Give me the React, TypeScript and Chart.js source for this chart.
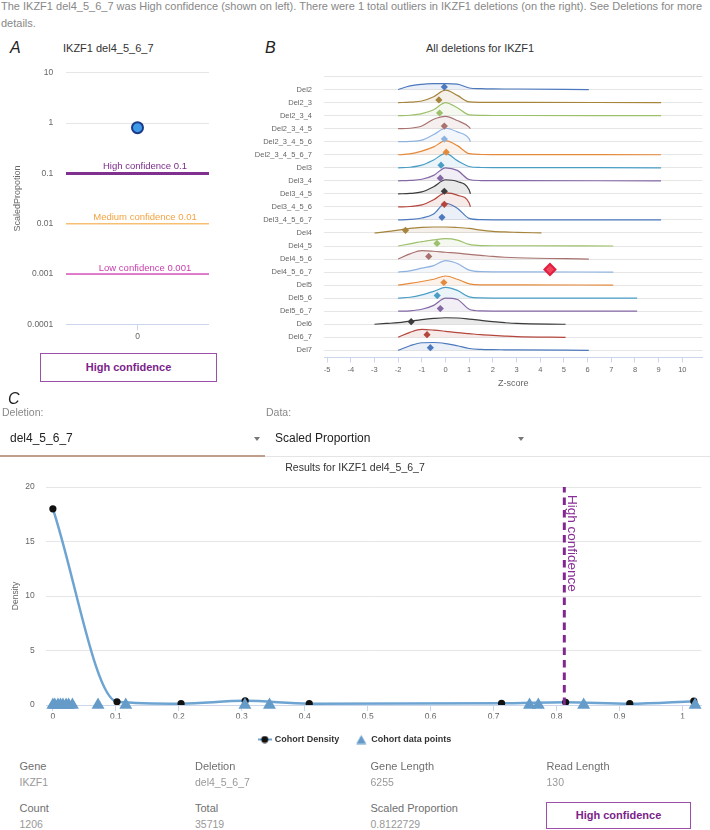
import React, { useEffect, useRef } from "react";
import { Chart, registerables } from "chart.js";

Chart.register(...registerables);

const FONT = "'Liberation Sans', Arial, Helvetica, sans-serif";
Chart.defaults.font.family = FONT;

// ---------------- shared values
const geneName = "IKZF1";
const deletionName = "del4_5_6_7";
const scaledProportion = 0.8122729;
const confidenceLevel = "High confidence";
const outlierCount = 1;

// ---------------- Panel A
const aCategory = ["0"];
const aLogTicks = [0.0001, 0.001, 0.01, 0.1, 1, 10];
const aLogTickLabels = ["0.0001", "0.001", "0.01", "0.1", "1", "10"];
const thresholdNames = ["High confidence", "Medium confidence", "Low confidence"];
const thresholdValues = [0.1, 0.01, 0.001];
const thresholdLineColors = ["#80308f", "#f7bf72", "#d955c0"];
const thresholdTextColors = ["#7b2a8b", "#f2a340", "#c940ad"];
const thresholdLineWidths = [3, 1.5, 1.5];

// ---------------- Panel B
const deletionCategories = [
  "Del2", "Del2_3", "Del2_3_4", "Del2_3_4_5", "Del2_3_4_5_6", "Del2_3_4_5_6_7",
  "Del3", "Del3_4", "Del3_4_5", "Del3_4_5_6", "Del3_4_5_6_7",
  "Del4", "Del4_5", "Del4_5_6", "Del4_5_6_7",
  "Del5", "Del5_6", "Del5_6_7", "Del6", "Del6_7", "Del7",
];
const ridgePalette = ["#4c79bd", "#a6843c", "#9dc06b", "#a8726f", "#8fb3e0", "#e58a3c", "#4a9ec6", "#8468a6", "#3b3b3b", "#b4463d"];
const ridgeGridZ = [-3, -2.5, -2, -1.5, -1, -0.5, 0, 0.5, 1, 1.5, 2, 2.5, 3];
const ridgeHeights: (number | null)[][] = [
  [null, null, 0, 0.28, 0.4, 0.45, 0.46, 0.42, 0.12, 0.07, 0.05, 0.04, 0.04],
  [null, null, 0, 0.03, 0.12, 0.45, 0.95, 0.55, 0.05, 0.02, 0.01, 0.01, 0.01],
  [null, null, 0, 0.03, 0.15, 0.45, 1.0, 0.6, 0.06, 0.02, 0.01, 0.01, 0.01],
  [null, null, 0, 0.03, 0.2, 0.72, 0.94, 0.62, 0.12],
  [null, null, 0, 0.02, 0.12, 0.55, 1.03, 0.75, 0.22],
  [null, null, 0, 0.06, 0.28, 0.6, 1.08, 0.7, 0.08, 0.02, 0.01, 0.01, 0.01],
  [null, null, 0, 0.04, 0.2, 0.6, 1.1, 0.55, 0.1, 0.02, 0.01, 0.01, 0.01],
  [null, null, 0, 0.03, 0.12, 0.42, 1.0, 0.8, 0.1, 0.02, 0.01, 0.01, 0.01],
  [null, null, 0, 0.03, 0.15, 0.55, 1.08, 0.95, 0.3],
  [null, null, 0, 0.03, 0.15, 0.55, 1.08, 0.9, 0.3],
  [null, null, 0, 0.04, 0.15, 0.45, 1.28, 0.9, 0.12, 0.02, 0.01, 0.01, 0.01],
  [0, 0.1, 0.22, 0.35, 0.43, 0.46, 0.46, 0.42, 0.35, 0.22, 0.13, 0.08, 0.05],
  [null, null, 0, 0.17, 0.33, 0.47, 0.56, 0.45, 0.12, 0.03, 0.02, 0.02, 0.02],
  [null, null, 0, 0.4, 0.65, 0.6, 0.52, 0.45, 0.36, 0.28, 0.2, 0.14, 0.1],
  [null, null, 0, 0.1, 0.3, 0.5, 0.88, 0.66, 0.15, 0.03, 0.02, 0.02, 0.02],
  [null, null, 0, 0.13, 0.28, 0.45, 0.7, 0.45, 0.1, 0.02, 0.02, 0.02, 0.02],
  [null, null, 0, 0.07, 0.25, 0.52, 0.83, 0.6, 0.1, 0.02, 0.01, 0.01, 0.01],
  [null, null, 0, 0.03, 0.15, 0.45, 1.0, 0.9, 0.15, 0.02, 0.01, 0.01, 0.01],
  [0, 0.06, 0.12, 0.24, 0.36, 0.45, 0.5, 0.48, 0.4, 0.3, 0.2, 0.12, 0.06],
  [null, null, 0, 0.38, 0.6, 0.55, 0.46, 0.36, 0.28, 0.2, 0.14, 0.09, 0.05],
  [null, null, 0, 0.35, 0.58, 0.6, 0.52, 0.35, 0.14, 0.07, 0.05, 0.04, 0.03],
];
const ridgeEndZ = [6.05, 9.1, 9.1, 1.05, 1.05, 9.1, 9.1, 9.1, 1.05, 1.05, 9.1, 4.05, 7.08, 6.05, 7.08, 7.08, 8.09, 8.09, 5.07, 5.07, 6.05];
const markerZ = [-0.05, -0.28, -0.25, -0.05, -0.05, 0.03, -0.19, -0.22, -0.05, -0.05, -0.15, -1.69, -0.36, -0.71, 4.41, -0.07, -0.35, -0.22, -1.45, -0.78, -0.64];
const outlierCategory = "Del4_5_6_7";
const zTicks = [-5, -4, -3, -2, -1, 0, 1, 2, 3, 4, 5, 6, 7, 8, 9, 10];

// ---------------- Panel C
const densityX = [0, 0.1018, 0.2036, 0.3054, 0.4072, 0.7126, 0.8144, 0.9162, 1.018];
const densityY = [18, 0.3, 0.12, 0.38, 0.12, 0.15, 0.25, 0.12, 0.35];
const cohortValues = [0, 0.003, 0.008, 0.012, 0.016, 0.021, 0.025, 0.031, 0.0717, 0.1157, 0.305, 0.344, 0.757, 0.771, 0.843, 1.02];
const cTicksX = [0, 0.1, 0.2, 0.3, 0.4, 0.5, 0.6, 0.7, 0.8, 0.9, 1];
const cTickLabelsX = ["0", "0.1", "0.2", "0.3", "0.4", "0.5", "0.6", "0.7", "0.8", "0.9", "1"];
const cTicksY = [0, 5, 10, 15, 20];

// ---------------- info table
const infoLabels1 = ["Gene", "Deletion", "Gene Length", "Read Length"];
const infoValues1 = [geneName, deletionName, "6255", "130"];
const infoLabels2 = ["Count", "Total", "Scaled Proportion"];
const infoValues2 = ["1206", "35719", String(scaledProportion)];

const AXIS_BLUE = "#ccd6eb";
const GRID = "#e6e6e6";
const TICK_TEXT = "#666";
const PURPLE = "#7b1f8a";
const LINE_BLUE = "#6ea4d2";
const TRI_BLUE = "#659bc8";

function hexA(hex: string, a: string) {
  return hex + a;
}

function makeChartA(canvas: HTMLCanvasElement) {
  const labelPlugin = {
    id: "thresholdLabels",
    afterDatasetsDraw(chart: any) {
      const { ctx, chartArea, scales } = chart;
      ctx.save();
      ctx.font = `9.5px ${FONT}`;
      ctx.textAlign = "center";
      ctx.textBaseline = "alphabetic";
      thresholdValues.forEach((v, i) => {
        const y = scales.y.getPixelForValue(v);
        ctx.fillStyle = thresholdTextColors[i];
        ctx.fillText(`${thresholdNames[i]} ${v}`, (chartArea.left + chartArea.right) / 2 + 7.5, y - 2.5 - thresholdLineWidths[i] / 2);
      });
      ctx.restore();
    },
  };
  return new Chart(canvas, {
    type: "scatter",
    data: {
      datasets: [
        ...thresholdValues.map((v, i) => ({
          type: "line" as const,
          data: [{ x: -0.5, y: v }, { x: 0.5, y: v }],
          borderColor: thresholdLineColors[i],
          borderWidth: thresholdLineWidths[i],
          pointRadius: 0,
          order: 2,
        })),
        {
          type: "scatter" as const,
          data: [{ x: 0, y: scaledProportion }],
          pointRadius: 5.5,
          backgroundColor: "#3f9be8",
          borderColor: "#1c3a8a",
          borderWidth: 2,
          order: 0,
        },
      ],
    },
    options: {
      animation: false,
      responsive: false,
      events: [],
      layout: { padding: { top: 12.7, right: 21, left: 0, bottom: 0 } },
      plugins: { legend: { display: false }, tooltip: { enabled: false } },
      scales: {
        x: {
          type: "linear",
          min: -0.5,
          max: 0.5,
          afterBuildTicks: (s: any) => { s.ticks = [{ value: 0 }]; },
          afterFit: (s: any) => { s.height = 20.7; },
          ticks: { callback: () => aCategory[0], color: TICK_TEXT, font: { size: 8.5 }, padding: 1, autoSkip: false, maxRotation: 0 },
          grid: { drawOnChartArea: false, tickLength: 6, color: AXIS_BLUE },
          border: { display: false },
        },
        y: {
          type: "logarithmic",
          min: 0.0001,
          max: 10,
          afterBuildTicks: (s: any) => { s.ticks = aLogTicks.map((v) => ({ value: v })); },
          afterFit: (s: any) => { s.width = 66; },
          ticks: { callback: (_v: any, i: number) => aLogTickLabels[i], color: TICK_TEXT, font: { size: 8.5 }, padding: 12.7, autoSkip: false },
          grid: { drawTicks: false, color: (c: any) => (c.index === 0 ? AXIS_BLUE : GRID) },
          border: { display: false },
          title: { display: true, text: "ScaledPropotion", color: TICK_TEXT, font: { size: 9 }, padding: { top: 12, bottom: 0 } },
        },
      },
    },
    plugins: [labelPlugin],
  } as any);
}

function makeChartB(canvas: HTMLCanvasElement) {
  const n = deletionCategories.length;
  const ridgeSets = ridgeHeights.map((row, i) => {
    const base = n - 1 - i;
    const color = ridgePalette[i % ridgePalette.length];
    const pts: { x: number; y: number }[] = [];
    ridgeGridZ.forEach((z, k) => {
      const h = row[k];
      if (h !== null && h !== undefined) pts.push({ x: z, y: base + h });
    });
    pts.push({ x: ridgeEndZ[i], y: base });
    return {
      type: "line" as const,
      data: pts,
      borderColor: color,
      backgroundColor: hexA(color, "1c"),
      borderWidth: 1.2,
      pointRadius: 0,
      fill: { value: base },
      cubicInterpolationMode: "monotone" as const,
      order: 1,
    };
  });
  const outIdx = deletionCategories.indexOf(outlierCategory);
  const markers = {
    type: "scatter" as const,
    data: markerZ.map((z, i) => ({ x: z, y: n - 1 - i + 0.2 })),
    pointStyle: "rectRot",
    pointRadius: markerZ.map((_, i) => (i === outIdx ? 5.5 : 3.6)),
    backgroundColor: markerZ.map((_, i) => (i === outIdx ? "#f0445c" : ridgePalette[i % ridgePalette.length])),
    borderColor: markerZ.map((_, i) => (i === outIdx ? "#e21d3d" : ridgePalette[i % ridgePalette.length])),
    borderWidth: markerZ.map((_, i) => (i === outIdx ? 2 : 0)),
    order: 0,
    clip: false,
  };
  return new Chart(canvas, {
    type: "scatter",
    data: { datasets: [...ridgeSets, markers] },
    options: {
      animation: false,
      responsive: false,
      events: [],
      layout: { padding: { top: 14.5, right: 7, left: 0, bottom: 0 } },
      plugins: { legend: { display: false }, tooltip: { enabled: false } },
      scales: {
        x: {
          type: "linear",
          min: -5.13,
          max: 10.85,
          afterBuildTicks: (s: any) => { s.ticks = zTicks.map((v) => ({ value: v })); },
          afterFit: (s: any) => { s.height = 37.5; },
          ticks: { callback: (v: any) => String(v), color: TICK_TEXT, font: { size: 7.5 }, padding: 2.5, autoSkip: false, maxRotation: 0 },
          grid: { drawOnChartArea: false, tickLength: 5, color: AXIS_BLUE },
          border: { display: true, color: AXIS_BLUE },
          title: { display: true, text: "Z-score", color: TICK_TEXT, font: { size: 9 }, padding: { top: 0, bottom: 5.6 } },
        },
        y: {
          type: "linear",
          min: -0.55,
          max: 21,
          afterBuildTicks: (s: any) => {
            const t = [];
            for (let v = 0; v <= n; v++) t.push({ value: v });
            s.ticks = t;
          },
          afterFit: (s: any) => { s.width = 94; },
          ticks: {
            callback: (v: any) => {
              const idx = n - 1 - Number(v);
              return idx >= 0 && idx < n ? deletionCategories[idx] : "";
            },
            color: TICK_TEXT,
            font: { size: 7.5 },
            padding: 12,
            autoSkip: false,
          },
          grid: { drawTicks: false, color: GRID },
          border: { display: false },
        },
      },
    },
  } as any);
}

// chart C canvas is shifted right so that its full-width legend centres on the page
const C_SHIFT = 9.3;

function makeChartC(canvas: HTMLCanvasElement) {
  const densityIcon = document.createElement("canvas");
  densityIcon.width = 14;
  densityIcon.height = 8;
  const ic = densityIcon.getContext("2d")!;
  ic.strokeStyle = LINE_BLUE;
  ic.lineWidth = 2;
  ic.beginPath();
  ic.moveTo(0, 4);
  ic.lineTo(14, 4);
  ic.stroke();
  ic.fillStyle = "#111";
  ic.beginPath();
  ic.arc(7, 4, 3.5, 0, Math.PI * 2);
  ic.fill();

  const triIcon = document.createElement("canvas");
  triIcon.width = 11;
  triIcon.height = 10;
  const tc = triIcon.getContext("2d")!;
  tc.fillStyle = TRI_BLUE;
  tc.beginPath();
  tc.moveTo(5.5, 0.5);
  tc.lineTo(10.5, 9.5);
  tc.lineTo(0.5, 9.5);
  tc.closePath();
  tc.fill();

  const hcLabel = {
    id: "hcLabel",
    afterDatasetsDraw(chart: any) {
      const { ctx, chartArea, scales } = chart;
      const x = scales.x.getPixelForValue(scaledProportion);
      ctx.save();
      ctx.translate(x + 4, chartArea.top + 8);
      ctx.rotate(Math.PI / 2);
      ctx.font = `13.5px ${FONT}`;
      ctx.fillStyle = "#8a2c98";
      ctx.textAlign = "left";
      ctx.textBaseline = "alphabetic";
      ctx.fillText(confidenceLevel, 0, 0);
      ctx.restore();
    },
  };

  return new Chart(canvas, {
    type: "scatter",
    data: {
      datasets: [
        {
          type: "line",
          label: "Cohort Density",
          data: densityX.map((x, i) => ({ x, y: densityY[i] })),
          borderColor: LINE_BLUE,
          borderWidth: 2.5,
          pointRadius: 3.6,
          pointBackgroundColor: "#111",
          pointBorderWidth: 0,
          cubicInterpolationMode: "monotone",
          order: 3,
        },
        {
          type: "scatter",
          label: "Cohort data points",
          data: cohortValues.map((x) => ({ x, y: 0 })),
          pointStyle: "triangle",
          pointRadius: 7.5,
          backgroundColor: TRI_BLUE,
          borderWidth: 0,
          clip: false,
          order: 1,
        },
        {
          type: "line",
          label: confidenceLevel,
          data: [{ x: scaledProportion, y: 0 }, { x: scaledProportion, y: 20 }],
          borderColor: "#82278f",
          borderWidth: 3,
          borderDash: [7.5, 5],
          pointRadius: 0,
          order: 2,
        },
      ],
    },
    options: {
      animation: false,
      responsive: false,
      events: [],
      layout: { padding: { top: 32, right: 8.3 + C_SHIFT, left: 0, bottom: 0 } },
      plugins: {
        tooltip: { enabled: false },
        legend: {
          display: true,
          position: "bottom",
          labels: {
            usePointStyle: true,
            pointStyleWidth: 11,
            padding: 16.5,
            color: "#333",
            font: { size: 9, weight: "bold" },
            generateLabels: () => [
              { text: "Cohort Density", pointStyle: densityIcon, fillStyle: LINE_BLUE, strokeStyle: LINE_BLUE, lineWidth: 0, hidden: false, datasetIndex: 0, fontColor: "#333" },
              { text: "Cohort data points", pointStyle: triIcon, fillStyle: TRI_BLUE, strokeStyle: TRI_BLUE, lineWidth: 0, hidden: false, datasetIndex: 1, fontColor: "#333" },
            ],
          },
        },
      },
      scales: {
        x: {
          type: "linear",
          min: -0.0103,
          max: 1.03,
          afterBuildTicks: (s: any) => { s.ticks = cTicksX.map((v) => ({ value: v })); },
          afterFit: (s: any) => { s.height = 13.5; },
          ticks: { callback: (_v: any, i: number) => cTickLabelsX[i], color: TICK_TEXT, font: { size: 8.5 }, padding: 1, autoSkip: false, maxRotation: 0 },
          grid: { drawOnChartArea: false, tickLength: 6, color: AXIS_BLUE },
          border: { display: true, color: AXIS_BLUE },
        },
        y: {
          type: "linear",
          min: 0,
          max: 20,
          afterBuildTicks: (s: any) => { s.ticks = cTicksY.map((v) => ({ value: v })); },
          afterFit: (s: any) => { s.width = 46.7 - C_SHIFT; },
          ticks: { color: TICK_TEXT, font: { size: 8.5 }, padding: 11.7, autoSkip: false },
          grid: { drawTicks: false, color: (c: any) => (c.index === 0 ? AXIS_BLUE : GRID) },
          border: { display: false },
          title: { display: true, text: "Density", color: TICK_TEXT, font: { size: 8.5 }, padding: { top: 16 - C_SHIFT - 5.1, bottom: 0 } },
        },
      },
    },
    plugins: [hcLabel],
  } as any);
}

function ChartBox(props: { left: number; top: number; width: number; height: number; make: (c: HTMLCanvasElement) => Chart }) {
  const ref = useRef<HTMLCanvasElement>(null);
  useEffect(() => {
    const chart = props.make(ref.current!);
    return () => chart.destroy();
  }, []);
  return (
    <canvas
      ref={ref}
      width={props.width}
      height={props.height}
      style={{ position: "absolute", left: props.left, top: props.top, width: props.width, height: props.height }}
    />
  );
}

function Txt(props: { x: number; y: number; size: number; color?: string; weight?: number | string; italic?: boolean; align?: "left" | "center" | "right"; children: React.ReactNode }) {
  const { x, y, size, color = "#333", weight = 400, italic = false, align = "left" } = props;
  const style: React.CSSProperties = {
    position: "absolute",
    left: x,
    top: y - size * 0.4885,
    fontSize: size,
    lineHeight: `${size}px`,
    color,
    fontWeight: weight as any,
    fontStyle: italic ? "italic" : "normal",
    whiteSpace: "nowrap",
    fontFamily: FONT,
    transform: align === "center" ? "translateX(-50%)" : align === "right" ? "translateX(-100%)" : undefined,
  };
  return <div style={style}>{props.children}</div>;
}

function ConfidenceBox(props: { left: number; top: number; width: number; height: number }) {
  return (
    <div
      style={{
        position: "absolute",
        left: props.left,
        top: props.top,
        width: props.width,
        height: props.height,
        boxSizing: "border-box",
        border: "1px solid #9c4fab",
        display: "flex",
        alignItems: "center",
        justifyContent: "center",
        color: PURPLE,
        fontWeight: 700,
        fontSize: 11,
        fontFamily: FONT,
      }}
    >
      {confidenceLevel}
    </div>
  );
}

function Arrow(props: { x: number; y: number }) {
  return (
    <div
      style={{
        position: "absolute",
        left: props.x - 3.5,
        top: props.y - 2,
        width: 0,
        height: 0,
        borderLeft: "3.5px solid transparent",
        borderRight: "3.5px solid transparent",
        borderTop: "4px solid #777",
      }}
    />
  );
}

export default function App() {
  const infoX = [19.5, 195, 370.5, 546.5];
  return (
    <div style={{ position: "absolute", left: 0, top: 0, width: 710, height: 830, overflow: "hidden", background: "#fff", fontFamily: FONT }}>
      <Txt x={1} y={6.5} size={11} color="#888">
        {`The ${geneName} ${deletionName} was ${confidenceLevel} (shown on left). There were ${outlierCount} total outliers in ${geneName} deletions (on the right). See Deletions for more`}
      </Txt>
      <Txt x={1} y={23.5} size={11} color="#888">details.</Txt>

      <Txt x={10} y={47.5} size={16} italic color="#222">A</Txt>
      <Txt x={63} y={48.8} size={11} color="#333">{`${geneName} ${deletionName}`}</Txt>
      <Txt x={265} y={47.5} size={16} italic color="#222">B</Txt>
      <Txt x={480} y={48.8} size={11} align="center" color="#333">{`All deletions for ${geneName}`}</Txt>

      <ChartBox left={0} top={55} width={230} height={290} make={makeChartA} />
      <ChartBox left={230} top={60} width={480} height={335} make={makeChartB} />
      <ConfidenceBox left={40} top={352.5} width={177} height={29.5} />

      <Txt x={8} y={399} size={16} italic color="#222">C</Txt>
      <Txt x={2} y={412.5} size={10.5} color="#888">Deletion:</Txt>
      <Txt x={266} y={412.5} size={10.5} color="#888">Data:</Txt>
      <Txt x={10} y={438} size={12} color="#222">{deletionName}</Txt>
      <Txt x={275} y={438} size={12} color="#222">Scaled Proportion</Txt>
      <Arrow x={257} y={439} />
      <Arrow x={521} y={439} />
      <div style={{ position: "absolute", left: 0, top: 455, width: 265, height: 1.5, background: "#bf9f8c" }} />
      <div style={{ position: "absolute", left: 265, top: 455.5, width: 445, height: 1, background: "#e4e4e4" }} />
      <Txt x={355} y={466.7} size={10.5} align="center" color="#333">{`Results for ${geneName} ${deletionName}`}</Txt>

      <ChartBox left={C_SHIFT} top={455} width={710} height={299} make={makeChartC} />

      {infoLabels1.map((t, i) => (
        <Txt key={"l1" + i} x={infoX[i]} y={766} size={11} color="#6f6f6f">{t}</Txt>
      ))}
      {infoValues1.map((t, i) => (
        <Txt key={"v1" + i} x={infoX[i]} y={782} size={10.5} color="#999">{t}</Txt>
      ))}
      {infoLabels2.map((t, i) => (
        <Txt key={"l2" + i} x={infoX[i]} y={808} size={11} color="#6f6f6f">{t}</Txt>
      ))}
      {infoValues2.map((t, i) => (
        <Txt key={"v2" + i} x={infoX[i]} y={824} size={10.5} color="#999">{t}</Txt>
      ))}
      <ConfidenceBox left={546} top={802} width={145} height={26.5} />
    </div>
  );
}
